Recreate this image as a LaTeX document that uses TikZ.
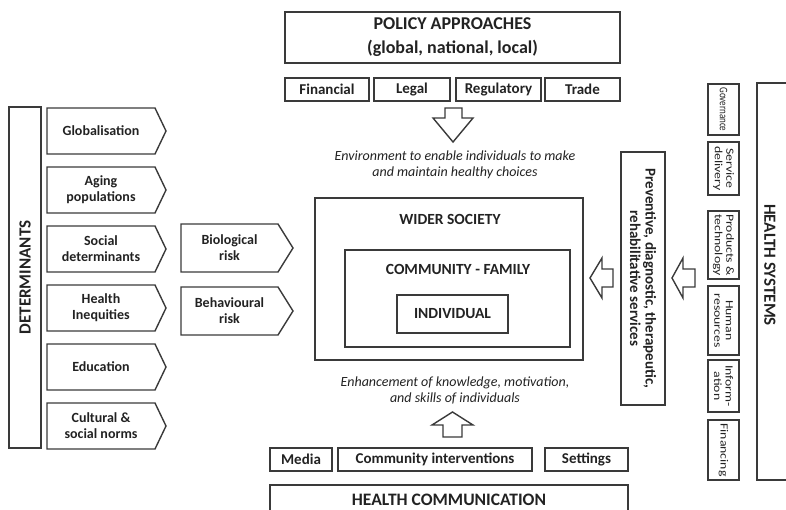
\documentclass[tikz,border=0pt]{standalone}
\usepackage{fontspec}
\setmainfont{Carlito}
\newfontfamily\stretchfont[FakeStretch=1.25]{Carlito}
\definecolor{lc}{HTML}{3A3A3A}
\definecolor{tc}{HTML}{222222}
\begin{document}
\begin{tikzpicture}[x=1pt,y=-1pt,
  box/.style={draw=lc,line width=1.4pt,rectangle,inner sep=0pt,align=center,text=tc,font=\bfseries\fontsize{15}{17}\selectfont},
  lbl/.style={inner sep=0pt,align=center,text=tc},
  pent/.style={draw=lc,line width=1.4pt,line join=miter},
  hsb/.style={box,minimum width=31pt,font=\stretchfont\fontsize{11}{12}\selectfont},
  hstxt/.style={lbl,rotate=-90,font=\stretchfont\fontsize{11}{11.5}\selectfont},
  blockarrow/.style={draw=lc,line width=1.4pt,fill=white,line join=miter},
  pentlbl/.style={lbl,font=\bfseries\fontsize{14}{16}\selectfont}
]
\useasboundingbox (0,0) rectangle (786,510);
\clip (0,0) rectangle (786,510);

% ---------- policy ----------
\node[box,minimum width=335pt,minimum height=51pt,font=\bfseries\fontsize{18}{24}\selectfont] (pol) at (452.5,37.5) {POLICY APPROACHES\\(global, national, local)};
\node[box,minimum width=84pt,minimum height=23pt] (fin) at (327,89.5) {Financial};
\node[box,minimum width=76pt,minimum height=23pt] (leg) at (412,89.5) {Legal};
\node[box,minimum width=85pt,minimum height=23pt] (reg) at (498.5,89.5) {Regulatory};
\node[box,minimum width=75pt,minimum height=23pt] (tra) at (582.5,89.5) {Trade};

\draw[blockarrow] (445,108) -- (462,108) -- (462,118) -- (473,118) -- (453,142) -- (433,118) -- (445,118) -- cycle;
\node[lbl,font=\itshape\fontsize{14}{16}\selectfont] (env) at (455,165) {Environment to enable individuals to make\\and maintain healthy choices};

% ---------- centre ----------
\node[box,minimum width=268pt,minimum height=162pt] (wider) at (449,279) {};
\node[lbl,font=\bfseries\fontsize{15.5}{17}\selectfont] (widerl) at (450,219) {WIDER SOCIETY};
\node[box,minimum width=225pt,minimum height=97pt] (comm) at (457.5,298.5) {};
\node[lbl,font=\bfseries\fontsize{15.5}{17}\selectfont] (comml) at (458,269) {COMMUNITY - FAMILY};
\node[box,minimum width=111pt,minimum height=38pt,font=\bfseries\fontsize{15.5}{17}\selectfont] (ind) at (452.5,314) {INDIVIDUAL};

\node[lbl,font=\itshape\fontsize{14}{16}\selectfont] (enh) at (455,390) {Enhancement of knowledge, motivation,\\and skills of individuals};
\draw[blockarrow] (443,437) -- (462,437) -- (462,425) -- (473,425) -- (452.5,412) -- (432,425) -- (443,425) -- cycle;

% ---------- health communication ----------
\node[box,minimum width=62pt,minimum height=23pt] (med) at (301,459.5) {Media};
\node[box,minimum width=194pt,minimum height=23pt] (ci) at (435,459.5) {Community interventions};
\node[box,minimum width=83pt,minimum height=23pt] (set) at (586.5,459.5) {Settings};
\node[box,minimum width=358pt,minimum height=40pt] (hc) at (449,505) {};
\node[lbl,font=\bfseries\fontsize{17.5}{20}\selectfont] (hcl) at (449,500) {HEALTH COMMUNICATION};

% ---------- determinants ----------
\node[box,minimum width=32pt,minimum height=341pt] (det) at (25,277.5) {};
\node[lbl,rotate=90,font=\bfseries\fontsize{17}{20}\selectfont] (detl) at (25,277.5) {DETERMINANTS};

\foreach \t/\txt [count=\i] in {108/Globalisation,167/{Aging\\populations},226/{Social\\determinants},285/{Health\\Inequities},344/Education,403/{Cultural \&\\social norms}}{
  \draw[pent] (47,\t) -- (155,\t) -- (166,\t+23) -- (155,\t+46) -- (47,\t+46) -- cycle;
  \node[pentlbl] (d\i) at (101,\t+23) {\txt};
}
\draw[pent] (181,224) -- (278,224) -- (293,248) -- (278,272) -- (181,272) -- cycle;
\node[pentlbl] (bio) at (229.5,248) {Biological\\risk};
\draw[pent] (181,287) -- (278,287) -- (293,311) -- (278,335) -- (181,335) -- cycle;
\node[pentlbl] (beh) at (229.5,311) {Behavioural\\risk};

% ---------- health systems ----------
\node[box,minimum width=43pt,minimum height=397pt] (hs) at (778.5,281.5) {};
\node[lbl,rotate=-90,font=\bfseries\fontsize{17}{20}\selectfont] (hsl) at (770,265) {HEALTH SYSTEMS};

\node[hsb,minimum height=51pt] (gov) at (723.5,109.5) {};
\node[lbl,rotate=-90,font=\fontsize{11.5}{12}\selectfont] at (gov) {\scalebox{0.78}[1]{Governance}};
\node[hsb,minimum height=53pt] (sd) at (723.5,168.5) {};
\node[hstxt] at (sd) {Service\\delivery};
\node[hsb,minimum height=68pt] (pt) at (723.5,245) {};
\node[hstxt] at (pt) {Products \&\\technology};
\node[hsb,minimum height=69pt] (hr) at (723.5,320.5) {};
\node[hstxt] at (hr) {Human\\resources};
\node[hsb,minimum height=52pt] (inf) at (723.5,386) {};
\node[hstxt] at (inf) {Inform-\\ation};
\node[hsb,minimum height=60pt] (fng) at (723.5,450) {};
\node[hstxt] at (fng) {Financing};

\node[box,minimum width=44pt,minimum height=253pt] (prev) at (643,278.5) {};
\node[lbl,rotate=-90,font=\bfseries\fontsize{15}{15.5}\selectfont] (prevl) at (643,278.5) {Preventive, diagnostic, therapeutic,\\rehabilitative services};

\draw[blockarrow] (613,269) -- (613,287) -- (602,287) -- (602,298) -- (590,278) -- (602,258) -- (602,269) -- cycle;
\draw[blockarrow] (695,269) -- (695,287) -- (683,287) -- (683,298) -- (672,278) -- (683,258) -- (683,269) -- cycle;
\end{tikzpicture}
\end{document}
